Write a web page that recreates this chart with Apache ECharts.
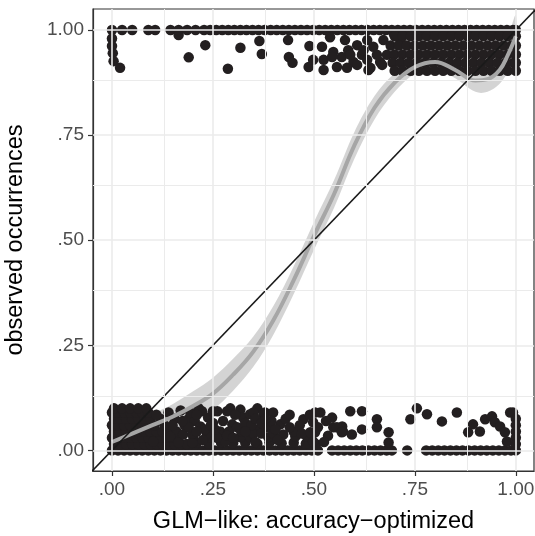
<!DOCTYPE html>
<html>
<head>
<meta charset="utf-8">
<script src="https://cdn.jsdelivr.net/npm/echarts@6/dist/echarts.min.js"></script>
<style>
html, body { margin: 0; padding: 0; background: #fff; }
#chart { width: 535px; height: 536px; }
</style>
</head>
<body>
<div id="chart"></div>
<script>
// axis breaks
const tickValues = [0, 0.25, 0.5, 0.75, 1];
const tickLabels = ['.00', '.25', '.50', '.75', '1.00'];
const minorValues = [0.125, 0.375, 0.625, 0.875];

// observed = 1 (jittered)
const topPoints = [
  [0,1],[0.025,1],[0.05,1],[0.09,1],[0.107,1],[0.145,1],[0.165,1],[0.186,1],[0.207,1],[0.228,1],[0.243,1],[0.258,1],
  [0.273,1],[0.288,1],[0.303,1],[0.318,1],[0.333,1],[0.348,1],[0.363,1],[0.378,1],[0.393,1],[0.408,1],[0.423,1],
  [0.438,1],[0.453,1],[0.468,1],[0.483,1],[0.498,1],[0.513,1],[0.528,1],[0.543,1],[0.558,1],[0.573,1],[0.588,1],
  [0.603,1],[0.618,1],[0.633,1],[0.648,1],[0.663,1],[0.678,1],[0.693,1],[0.708,1],[0.723,1],[0.738,1],[0.753,1],
  [0.768,1],[0.783,1],[0.798,1],[0.813,1],[0.828,1],[0.843,1],[0.858,1],[0.873,1],[0.888,1],[0.903,1],[0.918,1],
  [0.933,1],[0.948,1],[0.963,1],[0.978,1],[0.993,1],[1,1],
  [0,0.98],[0,0.962],[0.002,0.945],[0.004,0.926],[0.02,0.91],
  [0.165,0.988],[0.19,0.935],[0.231,0.964],[0.287,0.908],[0.318,0.958],[0.365,0.974],[0.371,0.943],
  [0.436,0.976],[0.438,0.936],[0.447,0.922],[0.489,0.962],[0.487,0.912],[0.498,0.929],
  [0.52,0.96],[0.524,0.929],[0.54,0.983],[0.548,0.948],[0.557,0.912],[0.569,0.936],[0.577,0.976],[0.585,0.952],
  [0.598,0.924],[0.607,0.964],[0.619,0.941],[0.632,0.976],[0.635,0.905],[0.647,0.96],[0.664,0.924],[0.672,0.976],
  [0.697,0.993],[0.714,0.976],[0.524,0.905],[0.545,0.936],[0.582,0.91],[0.59,0.941],[0.607,0.917],[0.623,0.952],
  [0.632,0.929],[0.64,0.91],[0.656,0.941],[0.669,0.917],[0.681,0.941],
  [0.7,0.985],[0.72,0.985],[0.74,0.985],[0.76,0.985],[0.78,0.985],[0.8,0.985],[0.82,0.985],[0.84,0.985],
  [0.86,0.985],[0.88,0.985],[0.9,0.985],[0.92,0.985],[0.94,0.985],[0.96,0.985],[0.98,0.985],[1,0.985],
  [0.69,0.963],[0.71,0.963],[0.73,0.963],[0.75,0.963],[0.77,0.963],[0.79,0.963],[0.81,0.963],[0.83,0.963],
  [0.85,0.963],[0.87,0.963],[0.89,0.963],[0.91,0.963],[0.93,0.963],[0.95,0.963],[0.97,0.963],[0.99,0.963],[1,0.963],
  [0.7,0.942],[0.72,0.942],[0.74,0.942],[0.76,0.942],[0.78,0.942],[0.8,0.942],[0.82,0.942],[0.84,0.942],
  [0.86,0.942],[0.88,0.942],[0.9,0.942],[0.92,0.942],[0.94,0.942],[0.96,0.942],[0.98,0.942],[1,0.942],
  [0.695,0.922],[0.715,0.922],[0.735,0.922],[0.755,0.922],[0.775,0.922],[0.795,0.922],[0.815,0.922],[0.835,0.922],
  [0.855,0.922],[0.875,0.922],[0.895,0.922],[0.915,0.922],[0.935,0.922],[0.955,0.922],[0.975,0.922],[0.995,0.922],[1,0.922],
  [0.7,0.903],[0.72,0.903],[0.74,0.903],[0.76,0.903],[0.78,0.903],[0.8,0.903],[0.82,0.903],[0.84,0.903],
  [0.86,0.903],[0.88,0.903],[0.9,0.903],[0.92,0.903],[0.94,0.903],[0.96,0.903],[0.98,0.903],[1,0.903]
];

// observed = 0 (jittered)
const bottomPoints = [
  [0,0],[0.015,0],[0.03,0],[0.045,0],[0.06,0],[0.075,0],[0.09,0],[0.105,0],[0.12,0],[0.135,0],[0.15,0],[0.165,0],
  [0.18,0],[0.195,0],[0.21,0],[0.225,0],[0.24,0],[0.255,0],[0.27,0],[0.285,0],[0.3,0],[0.315,0],[0.33,0],[0.345,0],
  [0.36,0],[0.375,0],[0.39,0],[0.405,0],[0.42,0],[0.435,0],[0.45,0],[0.465,0],[0.48,0],[0.495,0],[0.51,0],
  [0.545,0],[0.56,0],[0.575,0],[0.59,0],[0.605,0],[0.62,0],[0.635,0],[0.65,0],[0.665,0],[0.68,0],[0.693,0],
  [0.731,0],[0.778,0],[0.793,0],[0.808,0],[0.823,0],[0.838,0],[0.853,0],[0.868,0],[0.883,0],[0.898,0],[0.913,0],
  [0.928,0],[0.943,0],[0.958,0],[0.973,0],[0.988,0],[1,0],
  [0.21,0.018],[0.24,0.016],[0.27,0.019],[0.3,0.017],[0.33,0.018],[0.36,0.016],[0.39,0.019],[0.42,0.017],
  [0.45,0.018],[0.48,0.016],[0.505,0.015],
  [0.005,0.015],[0.02,0.015],[0.035,0.015],[0.05,0.015],[0.065,0.015],[0.08,0.015],[0.095,0.015],[0.11,0.015],
  [0.125,0.015],[0.14,0.015],[0.155,0.015],[0.17,0.015],[0.185,0.015],
  [0,0.03],[0.015,0.03],[0.03,0.03],[0.045,0.03],[0.06,0.03],[0.075,0.03],[0.09,0.03],[0.105,0.03],[0.12,0.03],
  [0.135,0.03],[0.15,0.03],[0.165,0.03],
  [0.005,0.045],[0.02,0.045],[0.035,0.045],[0.05,0.045],[0.065,0.045],[0.08,0.045],[0.095,0.045],[0.11,0.045],
  [0.125,0.045],[0.14,0.045],[0.16,0.045],
  [0,0.06],[0.015,0.06],[0.03,0.06],[0.045,0.06],[0.06,0.06],[0.075,0.06],[0.09,0.06],[0.105,0.06],[0.13,0.06],
  [0.005,0.075],[0.02,0.075],[0.035,0.075],[0.05,0.075],[0.065,0.075],[0.08,0.075],[0.095,0.075],[0.12,0.075],
  [0,0.09],[0.015,0.09],[0.03,0.09],[0.045,0.09],[0.06,0.09],[0.075,0.09],[0.09,0.09],
  [0.005,0.1],[0.025,0.1],[0.045,0.1],[0.065,0.1],[0.085,0.1],
  [0.11,0.085],[0.14,0.09],[0.155,0.075],[0.17,0.095],[0.18,0.06],[0.15,0.06],[0.19,0.075],[0.205,0.07],[0.215,0.1],
  [0.102,0.021],[0.144,0.033],[0.176,0.038],[0.201,0.033],[0.219,0.057],[0.238,0.078],[0.261,0.093],[0.285,0.093],
  [0.268,0.045],[0.243,0.031],[0.298,0.062],[0.318,0.097],[0.325,0.078],[0.342,0.086],[0.36,0.1],[0.379,0.09],
  [0.399,0.09],[0.335,0.055],[0.36,0.05],[0.384,0.055],[0.387,0.031],[0.417,0.062],[0.424,0.038],[0.454,0.033],
  [0.474,0.074],[0.483,0.033],[0.498,0.067],[0.503,0.043],[0.545,0.078],[0.548,0.055],[0.57,0.057],[0.572,0.045],
  [0.318,0.031],[0.342,0.031],[0.28,0.021],[0.199,0.019],[0.164,0.019],
  [0.194,0.09],[0.223,0.093],[0.25,0.093],[0.293,0.1],[0.35,0.09],[0.375,0.086],[0.2,0.04],[0.235,0.04],
  [0.27,0.04],[0.32,0.045],[0.35,0.04],[0.4,0.04],[0.45,0.045],
  [0.23,0.05],[0.25,0.065],[0.26,0.03],[0.275,0.07],[0.29,0.045],[0.305,0.085],[0.31,0.055],[0.33,0.065],
  [0.345,0.06],[0.355,0.075],[0.37,0.065],[0.37,0.04],[0.395,0.07],[0.405,0.05],[0.41,0.025],[0.43,0.075],
  [0.44,0.055],[0.465,0.06],[0.47,0.04],[0.49,0.085],[0.21,0.085],[0.225,0.025],[0.255,0.05],[0.285,0.035],
  [0.3,0.03],[0.33,0.045],[0.355,0.02],[0.38,0.075],[0.44,0.085],[0.51,0.055],[0.53,0.07],[0.535,0.035],
  [0.525,0.02],[0.19,0.055],[0.175,0.07],[0.21,0.045],[0.245,0.06],
  [0.503,0.09],[0.516,0.09],[0.491,0.043],[0.498,0.021],[0.557,0.055],[0.569,0.043],[0.59,0.093],[0.619,0.093],
  [0.619,0.05],[0.594,0.038],[0.656,0.074],[0.656,0.055],[0.685,0.043],[0.685,0.019],[0.739,0.074],[0.755,0.1],
  [0.78,0.086],[0.817,0.069],[0.854,0.09],[0.882,0.043],[0.894,0.062],[0.911,0.045],[0.924,0.074],[0.941,0.081],
  [0.948,0.067],[0.961,0.057],[0.973,0.043],[0.986,0.09],[0.993,0.09],[1,0.075],[1,0.06],[1,0.045],[1,0.03],
  [1,0.015],[0.978,0.021]
];

// smoothed fit and its confidence band
const smoothX  = [0, 0.05, 0.1, 0.15, 0.2, 0.25, 0.3, 0.35, 0.4, 0.45, 0.5, 0.55, 0.6, 0.65, 0.7, 0.75, 0.8, 0.85, 0.9, 0.93, 0.96, 0.98, 1];
const smoothY  = [0.02, 0.04, 0.06, 0.08, 0.105, 0.135, 0.18, 0.235, 0.31, 0.405, 0.51, 0.61, 0.725, 0.815, 0.875, 0.912, 0.924, 0.905, 0.88, 0.883, 0.905, 0.94, 0.985];
const smoothLo = [-0.002, 0.016, 0.033, 0.05, 0.07, 0.097, 0.142, 0.199, 0.276, 0.372, 0.477, 0.577, 0.693, 0.787, 0.853, 0.896, 0.909, 0.885, 0.853, 0.853, 0.872, 0.9, 0.935];
const smoothHi = [0.042, 0.064, 0.087, 0.11, 0.14, 0.173, 0.218, 0.271, 0.344, 0.438, 0.543, 0.643, 0.757, 0.843, 0.897, 0.928, 0.939, 0.925, 0.907, 0.913, 0.938, 0.98, 1.035];

// y = x reference
const refX = [-0.1, 1.1];
const refY = [-0.1, 1.1];

const FONT = '"Liberation Sans", Arial, Helvetica, sans-serif';
const pairs = (xs, ys) => xs.map((x, i) => [x, ys[i]]);
const fmt = v => {
  const i = tickValues.findIndex(t => Math.abs(t - v) < 1e-6);
  return i >= 0 ? tickLabels[i] : '';
};

const gridLines = []
  .concat(tickValues.map(v => ({ xAxis: v, lineStyle: { width: 1.6 } })))
  .concat(tickValues.map(v => ({ yAxis: v, lineStyle: { width: 1.6 } })))
  .concat(minorValues.map(v => ({ xAxis: v, lineStyle: { width: 1 } })))
  .concat(minorValues.map(v => ({ yAxis: v, lineStyle: { width: 1 } })));

const axisCommon = {
  type: 'value',
  axisLine: { show: true, onZero: false, lineStyle: { color: '#333', width: 1.2 } },
  splitLine: { show: false },
  axisTick: { show: true, customValues: tickValues, length: 5, lineStyle: { color: '#333', width: 1.2 } },
  axisLabel: { customValues: tickValues, formatter: fmt, color: '#4d4d4d', fontSize: 19, fontFamily: FONT, margin: 9 },
  nameLocation: 'middle',
  nameTextStyle: { fontSize: 23.5, color: '#000', fontFamily: FONT }
};

// ribbon: upper edge forward, lower edge back
function renderBand(params, api) {
  const upper = smoothX.map((x, i) => api.coord([x, smoothHi[i]]));
  const lower = smoothX.map((x, i) => api.coord([x, smoothLo[i]])).reverse();
  return {
    type: 'group',
    children: [
      { type: 'polyline', shape: { points: upper.concat(lower), smooth: 0.35 }, style: { fill: 'rgba(160,160,160,0.45)', stroke: null } }
    ]
  };
}

let chart = echarts.init(document.getElementById('chart'));
chart.setOption({
  animation: false,
  textStyle: { fontFamily: FONT },
  grid: {
    left: 93, right: 1, top: 9, bottom: 65, containLabel: false, outerBoundsMode: 'none',
    show: true, borderColor: '#333', borderWidth: 1.2, backgroundColor: '#fff'
  },
  xAxis: Object.assign({}, axisCommon, { min: -0.047, max: 1.045, name: 'GLM−like: accuracy−optimized', nameGap: 39 }),
  yAxis: Object.assign({}, axisCommon, { min: -0.049, max: 1.05, name: 'observed occurrences', nameGap: 65 }),
  series: [
    {
      type: 'line', data: [], silent: true,
      markLine: { silent: true, symbol: ['none', 'none'], label: { show: false }, lineStyle: { color: '#ebebeb', type: 'solid' }, data: gridLines }
    },
    {
      type: 'scatter', data: topPoints.concat(bottomPoints), symbolSize: 10.5, silent: true,
      itemStyle: { color: '#231f20', opacity: 1 }
    },
    {
      type: 'custom', data: [[0, 0]], renderItem: renderBand, silent: true, clip: true
    },
    {
      type: 'line', data: pairs(smoothX, smoothY), symbol: 'none', smooth: 0.4, silent: true,
      lineStyle: { color: '#a6a6a6', width: 4 }
    },
    {
      type: 'line', data: pairs(refX, refY), symbol: 'none', silent: true,
      lineStyle: { color: '#1a1a1a', width: 1.5 }
    }
  ]
});
window.addEventListener('resize', () => chart.resize());
</script>
</body>
</html>
